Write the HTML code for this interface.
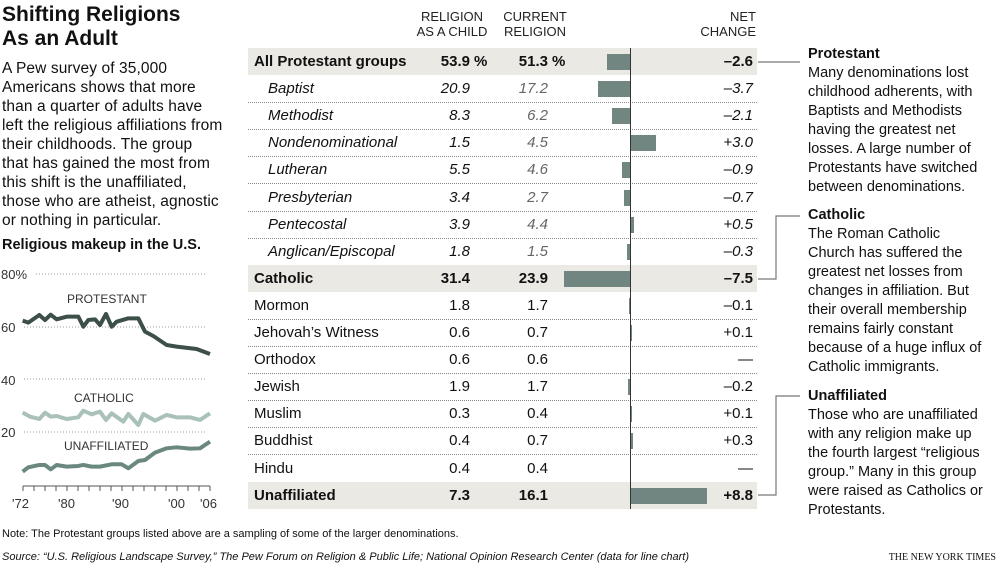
<!DOCTYPE html>
<html><head><meta charset="utf-8"><style>
body{margin:0;width:1000px;height:569px;background:#fff;position:relative;overflow:hidden;font-family:"Liberation Sans",Arial,sans-serif;color:#111}
.a{position:absolute;white-space:nowrap}
h1{position:absolute;left:2px;top:3px;margin:0;font-size:21px;line-height:24px;font-weight:bold}
.p{position:absolute;font-size:14px;line-height:19px}
.row{position:absolute;left:248px;width:509px;height:27px;font-size:15px;line-height:27px}
.sh{background:#ebe9e4;font-weight:bold}
.dt{border-bottom:1px dotted #888}
.n{position:absolute;left:6px}
.c1{position:absolute;right:287px}
.c2{position:absolute;right:209px}
.c3{position:absolute;right:4px}
.pc{position:absolute;left:100%;padding-left:4px}
.bar{position:absolute;top:6px;height:16px;background:#718680}
.hd{font-size:13px;line-height:15px;color:#222;text-align:center}
</style></head><body>
<h1>Shifting Religions<br>As an Adult</h1>
<div class="p" style="left:2px;top:59px;width:240px;font-size:15.5px;letter-spacing:0.1px">A Pew survey of 35,000<br>Americans shows that more<br>than a quarter of adults have<br>left the religious affiliations from<br>their childhoods. The group<br>that has gained the most from<br>this shift is the unaffiliated,<br>those who are atheist, agnostic<br>or nothing in particular.</div>
<div class="a" style="left:2px;top:237px;font-size:14.5px;font-weight:bold">Religious makeup in the U.S.</div>
<svg class="a" style="left:0;top:0" width="240" height="520">
<g font-family="Liberation Sans,Arial,sans-serif" font-size="13" fill="#333">
<text x="1" y="279">80%</text><text x="1" y="332">60</text><text x="1" y="385">40</text><text x="1" y="437">20</text>
<text x="67" y="303" font-size="12">PROTESTANT</text>
<text x="74" y="402" font-size="12">CATHOLIC</text>
<text x="64" y="450" font-size="12">UNAFFILIATED</text>
<text x="12" y="508">'72</text><text x="58" y="508">'80</text><text x="112" y="508">'90</text><text x="168" y="508">'00</text><text x="200" y="508">'06</text>
</g>
<g stroke="#999" stroke-width="1" stroke-dasharray="1,2">
<line x1="36" y1="274" x2="207" y2="274"/><line x1="24" y1="327" x2="207" y2="327"/><line x1="24" y1="379" x2="207" y2="379"/><line x1="24" y1="432" x2="207" y2="432"/>
</g>
<g stroke="#555" stroke-width="1">
<line x1="23" y1="486" x2="210" y2="486"/>
<path d="M23 486v5M34 486v5M45 486v5M56 486v5M67 486v5M78 486v5M89 486v5M100 486v5M111 486v5M122 486v5M133 486v5M144 486v5M155 486v5M166 486v5M177 486v5M188 486v5M199 486v5M210 486v5"/>
</g>
<g transform="translate(0 230) scale(0.3333)" fill="none" stroke-width="12" stroke-linejoin="round">
<polyline stroke="#3c4f4a" points="68,272 85,278 118,255 135,270 152,254 170,268 200,260 235,260 250,290 265,270 285,268 300,285 318,252 335,290 350,275 385,265 415,265 435,305 460,318 500,345 530,350 590,357 630,372"/>
<polyline stroke="#a9c1b7" points="68,548 90,560 118,567 135,548 152,560 170,558 200,567 235,562 250,542 275,553 300,545 318,570 335,550 370,575 385,552 415,585 430,552 465,572 500,555 530,562 570,562 600,570 630,550"/>
<polyline stroke="#6a8780" points="68,725 85,712 118,705 135,705 152,718 170,705 200,710 235,708 250,705 275,710 300,710 335,703 365,703 385,715 415,693 435,690 465,668 500,655 530,652 570,656 600,655 630,635"/>
</g>
</svg>
<div class="a hd" style="left:402px;top:9px;width:100px">RELIGION<br>AS A CHILD</div>
<div class="a hd" style="left:485px;top:9px;width:100px">CURRENT<br>RELIGION</div>
<div class="a hd" style="left:696px;top:9px;width:60px;text-align:right">NET<br>CHANGE</div>
<div id="tbl"></div>
<div class="a" style="left:630px;top:48px;width:1px;height:461px;background:#333"></div>
<svg class="a" style="left:0;top:0" width="1000" height="569">
<g stroke="#777" stroke-width="1.2" fill="none">
<path d="M758 62H800"/><path d="M758 279H776V216H800"/><path d="M758 495H776V396H800"/>
</g></svg>
<div class="p" style="left:808px;top:45px;width:192px;font-size:14.5px"><b>Protestant</b><br>Many denominations lost<br>childhood adherents, with<br>Baptists and Methodists<br>having the greatest net<br>losses. A large number of<br>Protestants have switched<br>between denominations.</div>
<div class="p" style="left:808px;top:206px;width:192px;font-size:14.5px"><b>Catholic</b><br>The Roman Catholic<br>Church has suffered the<br>greatest net losses from<br>changes in affiliation. But<br>their overall membership<br>remains fairly constant<br>because of a huge influx of<br>Catholic immigrants.</div>
<div class="p" style="left:808px;top:387px;width:192px;font-size:14.5px"><b>Unaffiliated</b><br>Those who are unaffiliated<br>with any religion make up<br>the fourth largest “religious<br>group.” Many in this group<br>were raised as Catholics or<br>Protestants.</div>
<div class="a" style="left:2px;top:528px;font-size:11px">Note: The Protestant groups listed above are a sampling of some of the larger denominations.</div>
<div class="a" style="left:2px;top:551px;font-size:11px;font-style:italic">Source: “U.S. Religious Landscape Survey,” The Pew Forum on Religion &amp; Public Life; National Opinion Research Center (data for line chart)</div>
<div class="a" style="right:4px;top:552px;font-size:10px;font-family:'Liberation Serif',serif">THE NEW YORK TIMES</div>
<script>
var R=[["All Protestant groups","53.9","51.3","–2.6",-2.6,2],["Baptist","20.9","17.2","–3.7",-3.7,1],["Methodist","8.3","6.2","–2.1",-2.1,1],["Nondenominational","1.5","4.5","+3.0",3,1],["Lutheran","5.5","4.6","–0.9",-0.9,1],["Presbyterian","3.4","2.7","–0.7",-0.7,1],["Pentecostal","3.9","4.4","+0.5",0.5,1],["Anglican/Episcopal","1.8","1.5","–0.3",-0.3,1],["Catholic","31.4","23.9","–7.5",-7.5,2],["Mormon","1.8","1.7","–0.1",-0.1,0],["Jehovah’s Witness","0.6","0.7","+0.1",0.1,0],["Orthodox","0.6","0.6","—",0,0],["Jewish","1.9","1.7","–0.2",-0.2,0],["Muslim","0.3","0.4","+0.1",0.1,0],["Buddhist","0.4","0.7","+0.3",0.3,0],["Hindu","0.4","0.4","—",0,0],["Unaffiliated","7.3","16.1","+8.8",8.8,2]];
var h="";R.forEach(function(r,i){var t=48+i*27.1;var cls="row"+(r[5]==2?" sh":"")+((r[5]!=2&&i<16&&R[i+1][5]!=2)?" dt":"");
var it=r[5]==1?"font-style:italic;":"";var w=Math.abs(r[4])*8.75;var bl=r[4]<0?382-w:382;
var pct=i==0?'<span class="pc">%</span>':"";
h+='<div class="'+cls+'" style="top:'+t+'px"><span class="n" style="'+it+(r[5]==1?'left:20px':'')+'">'+r[0]+'</span><span class="c1" style="'+it+'">'+r[1]+pct+'</span><span class="c2" style="'+it+(r[5]==1?'color:#666;':'')+'">'+r[2]+pct+'</span>'+(w>0?'<div class="bar" style="left:'+bl+'px;width:'+Math.max(w,1.5)+'px"></div>':'')+'<span class="c3" style="'+it+'">'+r[3]+'</span></div>';});
document.getElementById("tbl").innerHTML=h;
</script>
</body></html>
